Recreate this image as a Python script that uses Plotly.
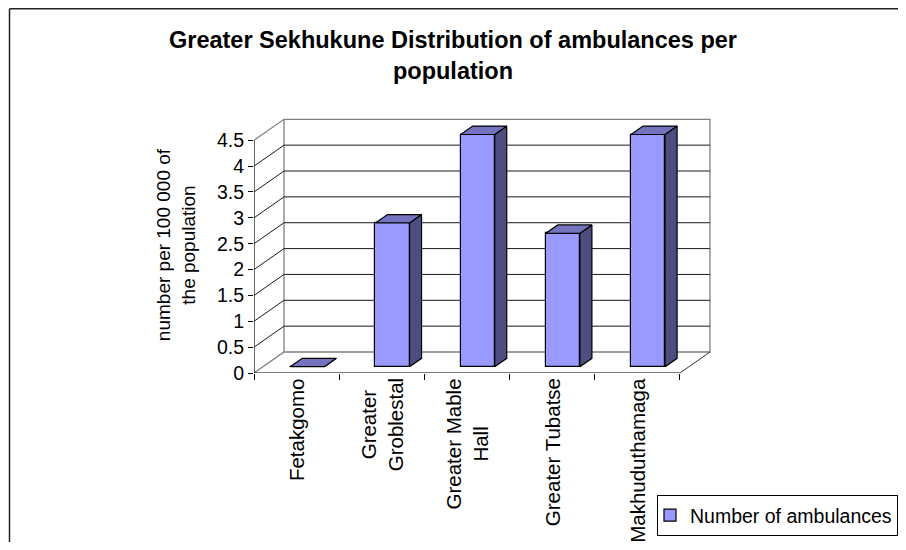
import plotly.graph_objects as go

# ---------------- data ----------------
categories = ["Fetakgomo", "Greater<br>Groblestal", "Greater Mable<br>Hall",
              "Greater Tubatse", "Makhuduthamaga"]
values = [0.0, 2.78, 4.49, 2.58, 4.49]
y_ticks = [0, 0.5, 1, 1.5, 2, 2.5, 3, 3.5, 4, 4.5]
y_tick_text = ["0", "0.5", "1", "1.5", "2", "2.5", "3", "3.5", "4", "4.5"]
series_name = "Number of ambulances"
title_text = "<b>Greater Sekhukune Distribution of ambulances per<br>population</b>"
y_title = "number per 100 000 of<br>the population"

# ---------------- geometry of the oblique 3-D look ----------------
DX = 0.3525      # depth offset (category units)
DY = 0.4056      # depth offset (value units)
BAR_W = 0.4      # bar width (category units)
BAR_FRONT = 0.3  # depth fraction of bar front face
BAR_DEPTH = 0.4  # depth fraction occupied by bar
n = len(categories)
x_lo, x_hi = -0.5, n - 0.5
y_top = y_ticks[-1]

FONT = "Arial, Liberation Sans, sans-serif"
FRONT_C = "#9999FF"
TOP_C = "#7373C0"
SIDE_C = "#4D4D80"
WALL_C = "#808080"

# page offset (body margin) and figure size (fits the window without scrolling)
OFF = 8
W, H = 906 - 2 * OFF, 550 - 2 * OFF

fig = go.Figure()

# walls (gray edges)
wx = [x_lo, x_lo + DX, x_hi + DX, x_hi + DX, x_lo + DX, x_lo, None,
      x_lo + DX, x_lo + DX]
wy = [0, DY, DY, y_top + DY, y_top + DY, y_top, None,
      DY, y_top + DY]
fig.add_trace(go.Scatter(x=wx, y=wy, mode="lines", line=dict(color=WALL_C, width=1.3),
                         hoverinfo="skip", showlegend=False))

# gridlines on the side and back walls
gx, gy = [], []
for v in y_ticks[1:-1]:
    gx += [x_lo, x_lo + DX, x_hi + DX, None]
    gy += [v, v + DY, v + DY, None]
fig.add_trace(go.Scatter(x=gx, y=gy, mode="lines", line=dict(color="#1a1a1a", width=1),
                         hoverinfo="skip", showlegend=False))

# floor right edge
fig.add_trace(go.Scatter(x=[x_hi, x_hi + DX], y=[0, DY], mode="lines",
                         line=dict(color="#333333", width=1),
                         hoverinfo="skip", showlegend=False))

# front axis lines
fig.add_trace(go.Scatter(x=[x_lo, x_lo, None, x_lo, x_hi], y=[y_top, 0, None, 0, 0],
                         mode="lines", line=dict(color="black", width=1.2),
                         hoverinfo="skip", showlegend=False))

# ---------------- bars (overlay axes so they sit above the walls) ----------------
base = BAR_FRONT * DY
xc = [i + BAR_FRONT * DX + 0.02 for i in range(n)]
fig.add_trace(go.Bar(x=xc, y=values, base=[base] * n, width=BAR_W,
                     marker=dict(color=FRONT_C, line=dict(color="black", width=1.2)),
                     name=series_name, xaxis="x2", yaxis="y2", showlegend=True))

ddx, ddy = BAR_DEPTH * DX, BAR_DEPTH * DY
sx, sy, tx, ty = [], [], [], []
for c, v in zip(xc, values):
    x0, x1 = c - BAR_W / 2, c + BAR_W / 2
    top = base + v
    sx += [x1, x1, x1 + ddx, x1 + ddx, x1, None]
    sy += [base, top, top + ddy, base + ddy, base, None]
    tx += [x0, x1, x1 + ddx, x0 + ddx, x0, None]
    ty += [top, top, top + ddy, top + ddy, top, None]
fig.add_trace(go.Scatter(x=sx, y=sy, mode="lines", fill="toself", fillcolor=SIDE_C,
                         line=dict(color="black", width=1.2), xaxis="x2", yaxis="y2",
                         hoverinfo="skip", showlegend=False))
fig.add_trace(go.Scatter(x=tx, y=ty, mode="lines", fill="toself", fillcolor=TOP_C,
                         line=dict(color="black", width=1.2), xaxis="x2", yaxis="y2",
                         hoverinfo="skip", showlegend=False))

# ---------------- layout (target page pixels -> figure coords) ----------------
xr = [-0.5, 4.9]
yr = [0, 4.95]
L = 254 - OFF
T = 117 - OFF
R = W - (714 - OFF)
B = H - (373 - OFF)
pw, ph = W - L - R, H - T - B


def px_to_paper_x(p):
    return (p - OFF - L) / pw


def px_to_paper_y(p):
    return (H - B - (p - OFF)) / ph


annotations = []
for i, lab in enumerate(categories):
    annotations.append(dict(x=i, xref="x", y=px_to_paper_y(376), yref="paper", text=lab,
                            textangle=-90, xanchor="center", yanchor="top",
                            align="center", showarrow=False,
                            font=dict(family=FONT, size=20.5, color="black")))

border = dict(color="#222222", width=1.5)
fig.update_layout(
    width=W, height=H, autosize=False,
    margin=dict(l=L, r=R, t=T, b=B, autoexpand=False),
    paper_bgcolor="white", plot_bgcolor="white",
    font=dict(family=FONT, size=19, color="black"),
    title=dict(text=title_text, x=(453 - OFF) / W, xref="container", xanchor="center",
               y=1 - 40 / H, yref="container", yanchor="top",
               font=dict(family=FONT, size=23.5, color="black")),
    xaxis=dict(range=xr, showgrid=False, zeroline=False, showline=False,
               tickvals=[x_lo + k for k in range(n + 1)], ticks="outside", ticklen=6,
               tickcolor="black", showticklabels=False, fixedrange=True),
    yaxis=dict(range=yr, showgrid=False, zeroline=False, showline=False,
               tickvals=y_ticks, ticktext=y_tick_text, ticks="outside", ticklen=5,
               tickcolor="black", tickfont=dict(family=FONT, size=19.5, color="black"),
               title=dict(text=y_title, standoff=16,
                          font=dict(family=FONT, size=19, color="black")),
               fixedrange=True),
    xaxis2=dict(range=xr, overlaying="x", visible=False, fixedrange=True),
    yaxis2=dict(range=yr, overlaying="y", visible=False, fixedrange=True),
    legend=dict(x=px_to_paper_x(657), y=px_to_paper_y(495), xanchor="left", yanchor="top",
                bordercolor="black", borderwidth=1, bgcolor="white", indentation=-8,
                font=dict(family=FONT, size=19.5, color="black")),
    annotations=annotations,
    shapes=[
        dict(type="line", xref="paper", yref="paper",
             x0=px_to_paper_x(9.5), x1=px_to_paper_x(9.5),
             y0=px_to_paper_y(OFF + 0.8), y1=px_to_paper_y(560),
             line=border, layer="below"),
        dict(type="line", xref="paper", yref="paper",
             x0=px_to_paper_x(9.5), x1=px_to_paper_x(906),
             y0=px_to_paper_y(OFF + 0.8), y1=px_to_paper_y(OFF + 0.8),
             line=border, layer="below"),
    ],
    showlegend=True,
    bargap=0,
)

fig.write_html("out.html")
